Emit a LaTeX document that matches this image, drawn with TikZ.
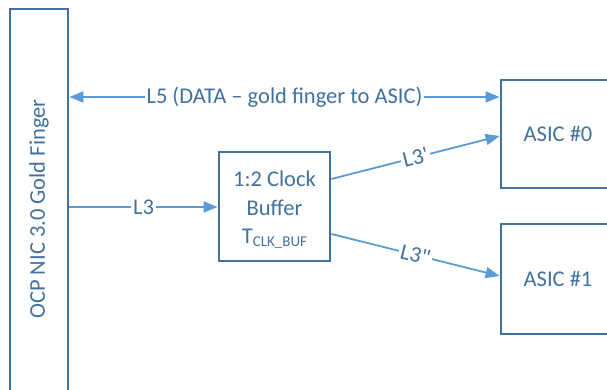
\documentclass[tikz,border=0pt]{standalone}
\usepackage{fontspec}
\setmainfont{Carlito}
\newfontfamily\rawfont{Carlito}[Ligatures=TeXOff]
\usetikzlibrary{arrows.meta,calc}
\definecolor{boxblue}{HTML}{41719C}
\definecolor{arrowblue}{HTML}{5B9BD5}
\tikzset{
  blk/.style={draw=boxblue, line width=2.8pt, rectangle, inner sep=0pt},
  txt/.style={text=boxblue, font=\fontsize{22.5}{28.5}\selectfont, inner sep=0pt},
  conn/.style={draw=arrowblue, line width=1.8pt, -{Triangle[length=14pt,width=11pt]}},
  lbl/.style={txt, fill=white, inner sep=2pt}
}
\begin{document}
\begin{tikzpicture}[x=1pt,y=1pt]
\useasboundingbox (0,0) rectangle (607,390);
\clip (0,0) rectangle (607,390);
% left gold finger box
\node[blk, minimum width=58, minimum height=391] (gf) at (39,185.5) {};
\node[txt, rotate=90] (gftxt) at (39,181) {OCP NIC 3.0 Gold Finger};
% ASIC boxes
\node[blk, minimum width=119, minimum height=108] (a0) at (560.5,256) {};
\node[txt] (a0txt) at (558,256) {ASIC \#0};
\node[blk, minimum width=119, minimum height=110] (a1) at (560.5,111) {};
\node[txt] (a1txt) at (558,111) {ASIC \#1};
% clock buffer
\node[blk, minimum width=111, minimum height=109] (cb) at (274.5,183.5) {};
\node[txt, align=center] (cbtxt) at (274.5,180) {1:2 Clock\\Buffer\\T{\fontsize{15}{16}\selectfont\raisebox{-3pt}{CLK\_BUF}}};
% connectors
\coordinate (l5a) at (gf.east |- 0,293);
\coordinate (l5b) at (a0.west |- 0,293);
\draw[conn, {Triangle[length=14pt,width=11pt]}-{Triangle[length=14pt,width=11pt]}] (l5a) -- node[lbl] {L5 (DATA -- gold finger to ASIC)} (l5b);
\coordinate (l3a) at (gf.east |- 0,183);
\coordinate (l3b) at (cb.west |- 0,183);
\draw[conn] (l3a) -- node[lbl] {L3} (l3b);
\coordinate (l3pa) at (cb.east |- 0,211);
\coordinate (l3pb) at (a0.west |- 0,254);
\draw[conn] (l3pa) -- node[lbl, sloped] {\rawfont L3'} (l3pb);
\coordinate (l3qa) at (cb.east |- 0,156);
\coordinate (l3qb) at (a1.west |- 0,114);
\draw[conn] (l3qa) -- node[lbl, sloped] {\rawfont L3"} (l3qb);
\end{tikzpicture}
\end{document}
